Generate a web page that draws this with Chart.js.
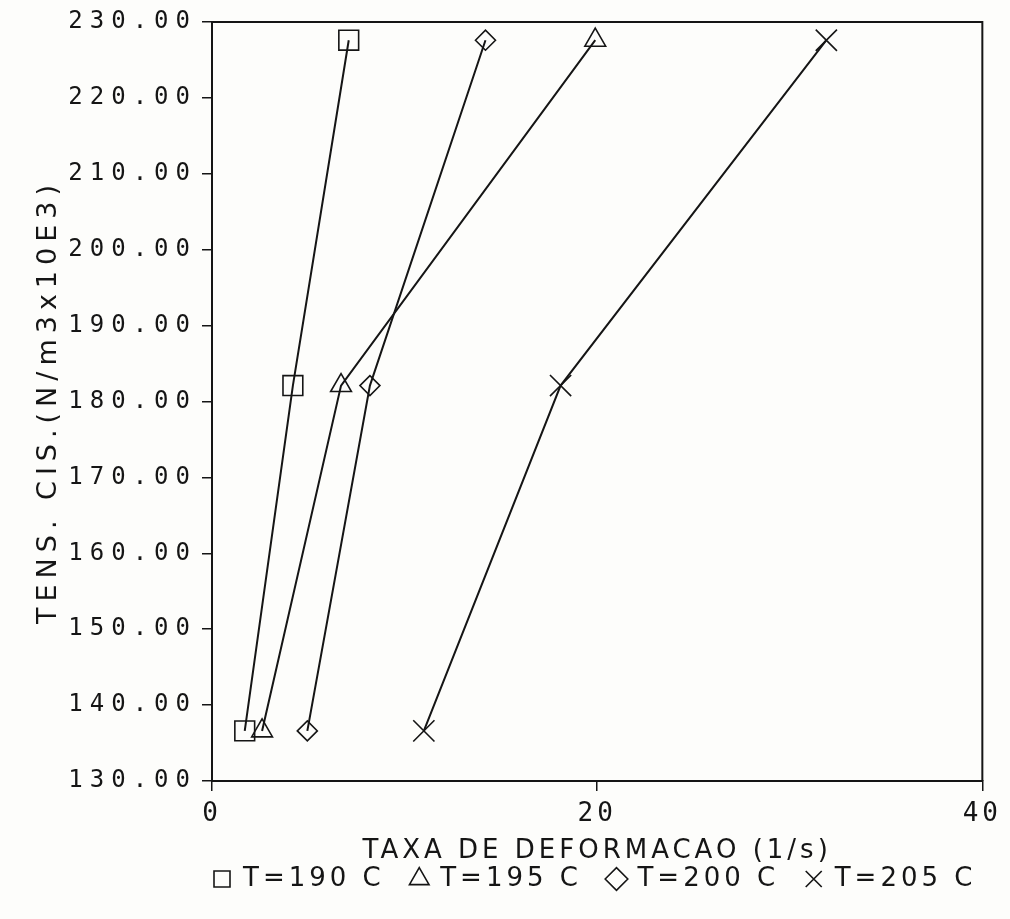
<!DOCTYPE html>
<html>
<head>
<meta charset="utf-8">
<script src="https://cdn.jsdelivr.net/npm/chart.js@4.4.0/dist/chart.umd.min.js"></script>
<style>
  html, body { margin: 0; padding: 0; background: #fdfdfb; }
</style>
</head>
<body>
<canvas id="viscChart" width="1010" height="919"></canvas>
<script>
// shear stress levels (y) and shear rate read for each temperature (x)
const shearStress = [136.6, 182.1, 227.6];
const rateT190 = [1.7, 4.2, 7.1];
const rateT195 = [2.6, 6.7, 19.9];
const rateT200 = [4.95, 8.2, 14.2];
const rateT205 = [11.0, 18.1, 31.9];
const seriesLabels = ['T=190 C', 'T=195 C', 'T=200 C', 'T=205 C'];
const xTicks = [0, 20, 40];
const yTicks = [130, 140, 150, 160, 170, 180, 190, 200, 210, 220, 230];

const ink = '#151515';

function points(rates) {
    return rates.map((r, i) => ({ x: r, y: shearStress[i] }));
}

// extra letter spacing per scale part, to get the wide plotter lettering
const spacing = {
    x: { drawLabels: '4px', drawTitle: '4px' },
    y: { drawLabels: '7px', drawTitle: '6px' }
};

function spaceOut(scale, method, px) {
    const orig = scale[method];
    scale[method] = function (area) {
        this.ctx.save();
        this.ctx.letterSpacing = px;
        orig.call(this, area);
        this.ctx.restore();
    };
}

const plotterText = {
    id: 'plotterText',
    beforeUpdate(chart) {
        chart.ctx.letterSpacing = '4px';
    },
    beforeDraw(chart) {
        const ctx = chart.ctx;
        ctx.save();
        ctx.fillStyle = '#fdfdfb';
        ctx.fillRect(0, 0, chart.width, chart.height);
        ctx.restore();
        ctx.letterSpacing = '4px';
        Object.keys(spacing).forEach(id => {
            const scale = chart.scales[id];
            if (!scale || scale._spaced) return;
            Object.keys(spacing[id]).forEach(m => spaceOut(scale, m, spacing[id][m]));
            scale._spaced = true;
        });
    },
    beforeDatasetsDraw(chart) {
        // close the frame on top and right
        const { ctx, chartArea } = chart;
        ctx.save();
        ctx.strokeStyle = ink;
        ctx.lineWidth = 2;
        ctx.beginPath();
        ctx.moveTo(chartArea.left, chartArea.top);
        ctx.lineTo(chartArea.right, chartArea.top);
        ctx.lineTo(chartArea.right, chartArea.bottom);
        ctx.stroke();
        ctx.restore();
    }
};

function makeSeries(label, rates, style, radius) {
    return {
        label: label,
        data: points(rates),
        showLine: true,
        borderColor: ink,
        borderWidth: 2,
        backgroundColor: 'rgba(0,0,0,0)',
        pointStyle: style,
        pointRadius: radius,
        pointHoverRadius: radius,
        pointBorderColor: ink,
        pointBorderWidth: 1.6,
        pointBackgroundColor: 'rgba(0,0,0,0)',
        clip: false
    };
}

const ctx = document.getElementById('viscChart').getContext('2d');
new Chart(ctx, {
    type: 'scatter',
    data: {
        datasets: [
            makeSeries(seriesLabels[0], rateT190, 'rect', 14),
            makeSeries(seriesLabels[1], rateT195, 'triangle', 12),
            makeSeries(seriesLabels[2], rateT200, 'rectRot', 10),
            makeSeries(seriesLabels[3], rateT205, 'crossRot', 15)
        ]
    },
    options: {
        responsive: false,
        animation: false,
        layout: { padding: { top: 22, right: 23, bottom: 17, left: 0 } },
        plugins: {
            tooltip: { enabled: false },
            legend: {
                position: 'bottom',
                fullSize: false,
                align: 'start',
                labels: {
                    usePointStyle: true,
                    boxWidth: 16,
                    boxHeight: 16,
                    padding: 2,
                    color: ink,
                    font: { family: 'DejaVu Sans', size: 26 },
                    generateLabels(chart) {
                        const items = Chart.defaults.plugins.legend.labels.generateLabels(chart);
                        items.forEach((item, i) => {
                            item.lineWidth = 1.6;
                            if (i < items.length - 1) item.text = item.text + '  ';
                        });
                        return items;
                    }
                }
            }
        },
        scales: {
            x: {
                type: 'linear',
                min: xTicks[0],
                max: xTicks[xTicks.length - 1],
                afterBuildTicks(scale) {
                    scale.ticks = xTicks.map(v => ({ value: v }));
                },
                afterFit(scale) {
                    scale.height = 83;
                },
                ticks: {
                    color: ink,
                    padding: 8,
                    font: { family: 'DejaVu Sans Mono', size: 26 },
                    callback: v => String(v)
                },
                grid: {
                    drawOnChartArea: false,
                    drawTicks: true,
                    tickLength: 10,
                    color: ink,
                    lineWidth: 1.5
                },
                border: { color: ink, width: 2 },
                title: {
                    display: true,
                    text: 'TAXA DE DEFORMACAO (1/s)',
                    color: ink,
                    font: { family: 'DejaVu Sans', size: 26, lineHeight: 1 },
                    padding: { top: 0, bottom: 0 }
                }
            },
            y: {
                type: 'linear',
                min: yTicks[0],
                max: yTicks[yTicks.length - 1],
                afterBuildTicks(scale) {
                    scale.ticks = yTicks.map(v => ({ value: v }));
                },
                afterFit(scale) {
                    scale.width = 212;
                },
                ticks: {
                    color: ink,
                    padding: 5,
                    font: { family: 'DejaVu Sans Mono', size: 24 },
                    callback: v => Number(v).toFixed(2)
                },
                grid: {
                    drawOnChartArea: false,
                    drawTicks: true,
                    tickLength: 10,
                    color: ink,
                    lineWidth: 1.5
                },
                border: { color: ink, width: 2 },
                title: {
                    display: true,
                    text: 'TENS. CIS.(N/m3x10E3)',
                    color: ink,
                    font: { family: 'DejaVu Sans', size: 27, lineHeight: 1 },
                    padding: { top: 35, bottom: 0 }
                }
            }
        }
    },
    plugins: [plotterText]
});
</script>
</body>
</html>
